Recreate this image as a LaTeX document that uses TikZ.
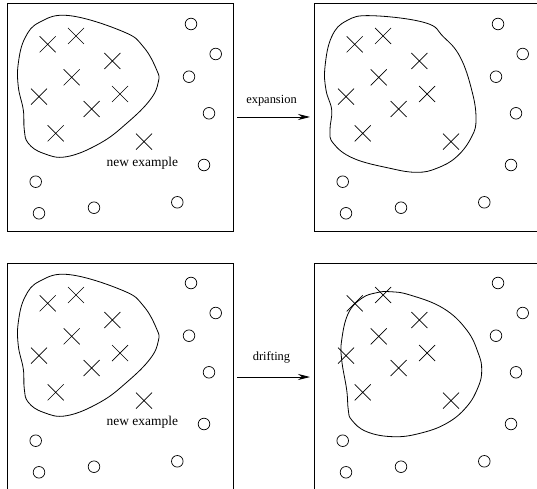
\documentclass[tikz,border=0pt]{standalone}
\usepackage{fontspec}
\setmainfont{Liberation Serif}
\usetikzlibrary{arrows.meta}
\newcommand\mypoints{%
  \foreach \p in {(47.7,44.3),(76,36),(112.3,61),(71.7,77.3),(39,96.7),(120,94),(91.7,109),(55.7,133.3),(144,141.7)}
    \pic at \p {xm};
  \foreach \p in {(191,24),(215.7,54),(189,76.7),(209,113.3),(204,165),(35.7,181.7),(39,213.3),(94,207.7),(177.3,202.3)}
    \pic at \p {om};
}
\begin{document}
\begin{tikzpicture}[x=1bp,y=-1bp,
  panel/.style={draw, line width=0.9bp, minimum width=226bp, minimum height=228bp, inner sep=0pt, outer sep=0pt},
  xm/.pic={\draw[line width=0.7bp] (-8,-8)--(8,8) (-8,8)--(8,-8);},
  om/.pic={\draw[line width=0.7bp] (0,0) circle[radius=5.8bp];},
  blob/.style={line width=0.8bp},
  conn/.style={-{Stealth[length=12bp,width=6bp]}, line width=0.8bp, shorten <=4bp, shorten >=4bp},
  lbl/.style={font=\fontsize{12.5}{14}\selectfont, inner sep=0pt},
  nlbl/.style={font=\fontsize{13.5}{15}\selectfont, inner sep=0pt},
  ]
\useasboundingbox (0,0) rectangle (537,489);
\clip (0,0) rectangle (537,489);
% panels
\node[panel] (tl) at (120,117) {};
\node[panel] (tr) at (427,117) {};
\node[panel] (bl) at (120,377) {};
\node[panel] (br) at (427,377) {};
% top-left
\begin{scope}
  \mypoints
  \draw[blob] plot[smooth cycle, tension=0.7] coordinates {(70,15.7) (123.3,31.7) (143.3,46.7) (156.7,70) (158.3,82) (150,100) (126.7,123.3) (100,143.3) (66.7,156.7) (43.3,153.3) (28.3,143.3) (24.3,130) (23.3,110) (18.3,86.7) (18.3,63.3) (25,38) (40,22)};
  \node[nlbl] (ne1) at (142.3,163.3) {new example};
\end{scope}
% top-right
\begin{scope}[shift={(307,0)}]
  \mypoints
  \draw[blob] plot[smooth cycle, tension=0.7] coordinates {(64.7,15.7) (118,22.7) (136.3,36.7) (153,56.7) (164.7,90) (169,118.3) (164.7,136.7) (149.7,156.7) (129.7,168.3) (109.7,172.3) (83,168.3) (46.3,158.3) (26.3,143.3) (23,130) (24.7,110) (19,90) (18,66.7) (24.7,36.7) (39.7,20.7)};
\end{scope}
% bottom-left
\begin{scope}[shift={(0,259)}]
  \mypoints
  \draw[blob] plot[smooth cycle, tension=0.7] coordinates {(70,15.7) (123.3,31.7) (143.3,46.7) (156.7,70) (158.3,82) (150,100) (126.7,123.3) (100,143.3) (66.7,156.7) (43.3,153.3) (28.3,143.3) (24.3,130) (23.3,110) (18.3,86.7) (18.3,63.3) (25,38) (40,22)};
  \node[nlbl] (ne2) at (142.3,163.3) {new example};
\end{scope}
% bottom-right
\begin{scope}[shift={(307,259)}]
  \mypoints
  \draw[blob] plot[smooth cycle, tension=0.7] coordinates {(83,32.7) (103,36) (136.3,49.3) (159.7,71) (171.3,94.3) (174.7,111) (171.3,127.7) (159.7,147.7) (139.7,164.3) (113,174.3) (86.3,177.7) (59.7,172.7) (44.7,161) (41.3,151) (39.7,131) (34.7,101) (34.7,81) (41.3,54.3) (54.7,39.3) (69.7,33.7)};
\end{scope}
% connectors
\draw[conn] (tl.east) -- (tr.west) node[lbl, midway, anchor=base, yshift=13bp, xshift=-2bp] (l1) {expansion};
\draw[conn] (bl.east) -- (br.west) node[lbl, midway, anchor=base, yshift=17bp, xshift=-2bp] (l2) {drifting};
\end{tikzpicture}
\end{document}
